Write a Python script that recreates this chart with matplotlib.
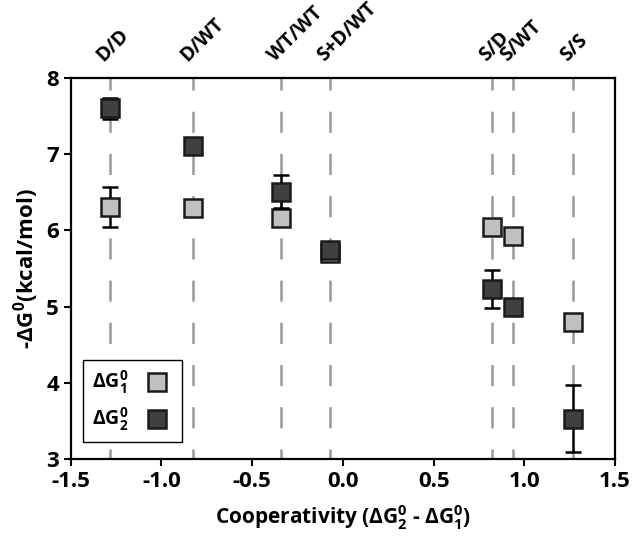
import matplotlib
matplotlib.use("Agg")
import matplotlib.pyplot as plt
from matplotlib.lines import Line2D

plt.rcParams["font.family"] = ["Open Sans", "DejaVu Sans"]
plt.rcParams["font.weight"] = "bold"
plt.rcParams["mathtext.fontset"] = "custom"
plt.rcParams["mathtext.rm"] = "Open Sans:bold"
plt.rcParams["mathtext.it"] = "Open Sans:bold"
plt.rcParams["mathtext.bf"] = "Open Sans:bold"
plt.rcParams["lines.scale_dashes"] = False

# variants and their cooperativity (x position)
variants = ["D/D", "D/WT", "WT/WT", "S+D/WT", "S/D", "S/WT", "S/S"]
coop = [-1.286, -0.825, -0.341, -0.070, 0.823, 0.939, 1.271]

dg1 = [6.31, 6.29, 6.16, 5.70, 6.05, 5.93, 4.80]
dg1_err = [0.26, 0.07, 0.0, 0.0, 0.10, 0.0, 0.0]
dg2 = [7.60, 7.11, 6.51, 5.74, 5.23, 4.99, 3.53]
dg2_err = [0.14, 0.0, 0.22, 0.06, 0.25, 0.0, 0.44]

LIGHT = "#c0c0c0"
DARK = "#404040"

fig = plt.figure(figsize=(6.33, 5.38), dpi=100)
ax = fig.add_axes([0.1117, 0.1468, 0.8599, 0.7082])

for x, name in zip(coop, variants):
    ax.plot([x, x], [8, 3], color="#999999", linewidth=1.8,
            linestyle=(6.5, (15.2, 15.2)), zorder=1)
    ax.annotate(name, xy=(x, 1), xycoords=("data", "axes fraction"),
                xytext=(-2, 9), textcoords="offset points",
                rotation=45, rotation_mode="anchor", ha="left", va="bottom",
                fontsize=14, fontweight="bold")

ax.errorbar(coop, dg1, yerr=dg1_err, fmt="s", color="black", ecolor="black",
            markerfacecolor=LIGHT, markeredgecolor="#1a1a1a", markersize=13,
            markeredgewidth=1.8, elinewidth=1.8, capsize=5.5, capthick=1.8, zorder=3)
ax.errorbar(coop, dg2, yerr=dg2_err, fmt="s", color="black", ecolor="black",
            markerfacecolor=DARK, markeredgecolor="#1a1a1a", markersize=13,
            markeredgewidth=1.8, elinewidth=1.8, capsize=5.5, capthick=1.8, zorder=4)

ax.set_xlim(-1.5, 1.5)
ax.set_ylim(3, 8)
ax.set_xticks([-1.5, -1.0, -0.5, 0.0, 0.5, 1.0, 1.5])
ax.set_xticklabels(["-1.5", "-1.0", "-0.5", "0.0", "0.5", "1.0", "1.5"])
ax.set_yticks([3, 4, 5, 6, 7, 8])
ax.tick_params(axis="both", labelsize=16, width=1.5, length=5, direction="out")
for lab in ax.get_xticklabels() + ax.get_yticklabels():
    lab.set_fontweight("bold")
for s in ax.spines.values():
    s.set_linewidth(1.6)

ax.set_xlabel(r"Cooperativity ($\Delta$G$^0_2$ - $\Delta$G$^0_1$)",
              fontsize=15, fontweight="bold", labelpad=8)
ax.set_ylabel(r"-$\Delta$G$^0$(kcal/mol)", fontsize=16, fontweight="bold", labelpad=4)

handles = [
    Line2D([], [], marker="s", linestyle="none", markersize=13,
           markerfacecolor=LIGHT, markeredgecolor="#1a1a1a", markeredgewidth=1.8),
    Line2D([], [], marker="s", linestyle="none", markersize=13,
           markerfacecolor=DARK, markeredgecolor="#1a1a1a", markeredgewidth=1.8),
]
leg = ax.legend(handles, [r"$\Delta$G$^0_1$", r"$\Delta$G$^0_2$"],
                loc="lower left", bbox_to_anchor=(0.0226, 0.0446),
                markerfirst=False, fancybox=False, edgecolor="black",
                framealpha=1, fontsize=14, handletextpad=0.7, handlelength=1.6,
                labelspacing=0.5, borderpad=0.45, borderaxespad=0)
leg.get_frame().set_linewidth(1.0)

fig.savefig("out.png", dpi=100)
